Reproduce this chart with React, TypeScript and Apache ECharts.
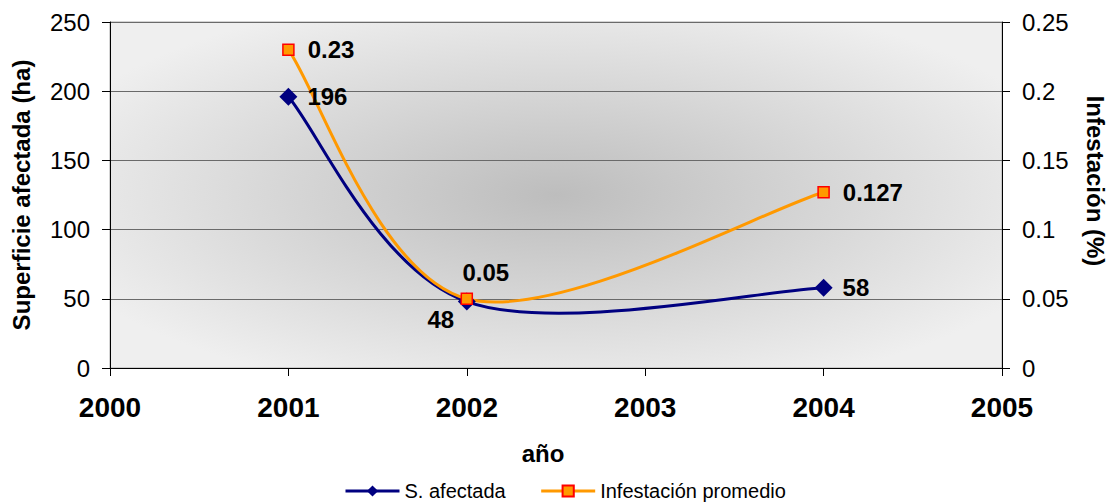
import React, { useEffect, useRef } from "react";
import * as echarts from "echarts";

const years = [2001, 2002, 2004];
const superficie = [196, 48, 58];
const infestacion = [0.23, 0.05, 0.127];
const seriesNames = ["S. afectada", "Infestación promedio"];
const xTicks = { min: 2000, max: 2005, interval: 1 };
const leftTicks = { min: 0, max: 250, interval: 50 };
const rightTicks = { min: 0, max: 0.25, interval: 0.05 };

const FONT = "'Liberation Sans', Arial, sans-serif";
const BLUE = "#000080";
const ORANGE = "#FF9900";

// Excel-like smoothed curve (Catmull-Rom Bezier) through the data points, mapped by the axes
function curveRenderer(xs: number[], ys: number[], color: string) {
  return (params: any, api: any) => {
    const i = params.dataIndex;
    const n = xs.length;
    if (i >= n - 1) return { type: "group", children: [] };
    const c = (j: number) => {
      const k = Math.max(0, Math.min(n - 1, j));
      return api.coord([xs[k], ys[k]]);
    };
    const p0 = c(i - 1);
    const p1 = c(i);
    const p2 = c(i + 1);
    const p3 = c(i + 2);
    return {
      type: "bezierCurve",
      shape: {
        x1: p1[0],
        y1: p1[1],
        x2: p2[0],
        y2: p2[1],
        cpx1: p1[0] + (p2[0] - p0[0]) / 6,
        cpy1: p1[1] + (p2[1] - p0[1]) / 6,
        cpx2: p2[0] - (p3[0] - p1[0]) / 6,
        cpy2: p2[1] - (p3[1] - p1[1]) / 6,
      },
      style: { stroke: color, lineWidth: 3, fill: null },
    };
  };
}

export default function App() {
  const ref = useRef<HTMLDivElement>(null);
  useEffect(() => {
    document.body.style.margin = "0";
    document.body.style.overflow = "hidden";
    document.documentElement.style.overflow = "hidden";
    const chart = echarts.init(ref.current!, undefined, { renderer: "svg", width: 1111, height: 503 });
    const labelBase = {
      show: true,
      fontFamily: FONT,
      fontWeight: "bold",
      fontSize: 24,
      color: "#000",
    };
    const supLabels = superficie.map((_, i) =>
      i === 1
        ? { ...labelBase, position: "bottom", offset: [-26, -8] }
        : { ...labelBase, position: "right", distance: 10 }
    );
    const infLabels = infestacion.map((_, i) =>
      i === 1
        ? { ...labelBase, position: "top", offset: [19, -3] }
        : { ...labelBase, position: "right", distance: 13 }
    );
    const axisNameStyle = { fontFamily: FONT, fontSize: 24, fontWeight: "bold", color: "#000" };
    chart.setOption({
      animation: false,
      textStyle: { fontFamily: FONT },
      grid: {
        left: 110,
        right: 109,
        top: 22,
        bottom: 135,
        containLabel: false,
        outerBoundsMode: "none",
        show: true,
        borderWidth: 1,
        borderColor: "#a8a8a8",
        backgroundColor: new echarts.graphic.RadialGradient(0.5, 0.5, 0.6, [
          { offset: 0, color: "#bdbdbd" },
          { offset: 1, color: "#efefef" },
        ]),
      },
      legend: {
        left: 344,
        top: 481,
        padding: 0,
        itemWidth: 54,
        itemHeight: 14,
        itemGap: 34,
        textStyle: { fontFamily: FONT, fontSize: 20, color: "#000" },
        data: [
          { name: seriesNames[0], lineStyle: { color: BLUE, width: 3, opacity: 1 } },
          { name: seriesNames[1], lineStyle: { color: ORANGE, width: 3, opacity: 1 } },
        ],
      },
      xAxis: {
        type: "value",
        min: xTicks.min,
        max: xTicks.max,
        interval: xTicks.interval,
        name: "año",
        nameLocation: "middle",
        nameGap: 73,
        nameTextStyle: { ...axisNameStyle, padding: [0, 26, 0, 0] },
        axisLine: { show: true, lineStyle: { color: "#000", width: 1 } },
        axisTick: { show: true, length: 8, lineStyle: { color: "#000" } },
        axisLabel: {
          fontFamily: FONT,
          fontSize: 28,
          fontWeight: "bold",
          color: "#000",
          margin: 25,
          formatter: (v: number) => String(v),
        },
        splitLine: { show: false },
      },
      yAxis: [
        {
          type: "value",
          min: leftTicks.min,
          max: leftTicks.max,
          interval: leftTicks.interval,
          name: "Superficie afectada (ha)",
          nameLocation: "middle",
          nameGap: 77,
          nameRotate: 90,
          nameTextStyle: axisNameStyle,
          axisLine: { show: true, lineStyle: { color: "#000", width: 1 } },
          axisTick: { show: true, length: 8, lineStyle: { color: "#000" } },
          axisLabel: { fontFamily: FONT, fontSize: 24, color: "#000", margin: 20 },
          splitLine: { show: true, lineStyle: { color: "#6a6a6a", width: 1 } },
        },
        {
          type: "value",
          min: rightTicks.min,
          max: rightTicks.max,
          interval: rightTicks.interval,
          position: "right",
          name: "Infestación (%)",
          nameLocation: "middle",
          nameGap: 81,
          nameRotate: -90,
          nameTextStyle: { ...axisNameStyle, padding: [0, 28, 0, 0] },
          axisLine: { show: true, lineStyle: { color: "#000", width: 1 } },
          axisTick: { show: true, length: 8, lineStyle: { color: "#000" } },
          axisLabel: { fontFamily: FONT, fontSize: 24, color: "#000", margin: 20 },
          splitLine: { show: false },
        },
      ],
      series: [
        {
          type: "custom",
          yAxisIndex: 0,
          renderItem: curveRenderer(years, superficie, BLUE),
          data: years.map((y, i) => [y, superficie[i]]),
          silent: true,
          z: 1,
        },
        {
          type: "custom",
          yAxisIndex: 1,
          renderItem: curveRenderer(years, infestacion, ORANGE),
          data: years.map((y, i) => [y, infestacion[i]]),
          silent: true,
          z: 2,
        },
        {
          name: seriesNames[0],
          type: "line",
          yAxisIndex: 0,
          symbol: "diamond",
          symbolSize: 18,
          lineStyle: { color: BLUE, width: 3, opacity: 0 },
          itemStyle: { color: BLUE },
          data: years.map((y, i) => ({ value: [y, superficie[i]], label: supLabels[i] })),
          z: 3,
        },
        {
          name: seriesNames[1],
          type: "line",
          yAxisIndex: 1,
          symbol: "rect",
          symbolSize: 11,
          lineStyle: { color: ORANGE, width: 3, opacity: 0 },
          itemStyle: { color: ORANGE, borderColor: "#FF0000", borderWidth: 1.5 },
          data: years.map((y, i) => ({ value: [y, infestacion[i]], label: infLabels[i] })),
          z: 4,
        },
      ],
    });
    return () => chart.dispose();
  }, []);
  return <div ref={ref} style={{ width: 1111, height: 503 }} />;
}
